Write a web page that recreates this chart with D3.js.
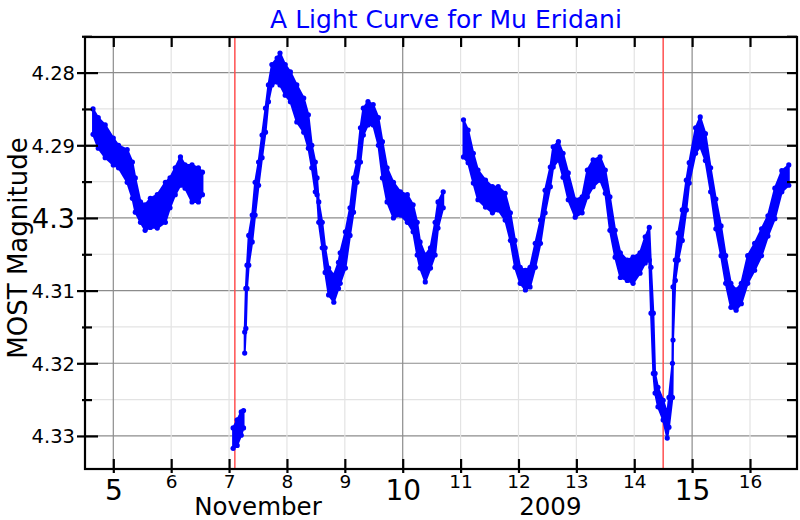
<!DOCTYPE html>
<html><head><meta charset="utf-8">
<script src="https://cdn.jsdelivr.net/npm/d3@7"></script>
<style>
body{margin:0;background:#fff}
svg{display:block}
text{font-family:"DejaVu Sans",sans-serif}
</style>
</head><body><svg id="c" width="800" height="520"></svg>
<script>
// ---------- DATA (November 2009, MOST magnitude; band = brightest/faintest edge) ----------
const dayA = [4.65,4.74,4.86,5.00,5.09,5.24,5.33,5.38,5.47,5.55,5.64,5.76,5.90,5.98,6.07,6.16,6.24,6.36,6.47,6.54];
const loA  = [4.2850,4.2862,4.2872,4.2890,4.2900,4.2906,4.2923,4.2945,4.2978,4.2982,4.2973,4.2968,4.2951,4.2945,4.2931,4.2916,4.2927,4.2927,4.2931,4.2937];
const hiA  = [4.2885,4.2904,4.2917,4.2927,4.2931,4.2951,4.2973,4.2992,4.3006,4.3017,4.3013,4.3014,4.3006,4.2986,4.2968,4.2955,4.2959,4.2978,4.2978,4.2968];

const dayB = [7.07,7.14,7.21,7.25];
const loB  = [4.3289,4.3278,4.3267,4.3265];
const hiB  = [4.3317,4.3313,4.3299,4.3289];

const dayC = [7.27,7.29,7.31,7.34,7.40,7.45,7.51,7.57,7.63,7.68,7.74,7.83,7.88,7.97,8.06,8.17,8.29,8.37,8.43,8.49,8.52,8.55,8.61,8.66,8.72,8.81,8.89,8.92,9.01,9.09,9.15,9.21,9.27,9.32,9.40,9.49,9.58,9.65,9.73,9.84,9.96,10.08,10.18,10.25,10.30,10.39,10.48,10.56,10.61,10.70];
const loC  = [4.3157,4.3097,4.3065,4.3024,4.2996,4.2951,4.2923,4.2886,4.2849,4.2817,4.2789,4.2780,4.2773,4.2789,4.2799,4.2817,4.2835,4.2858,4.2900,4.2923,4.2945,4.2978,4.3006,4.3041,4.3069,4.3079,4.3061,4.3048,4.3019,4.2986,4.2945,4.2923,4.2876,4.2849,4.2840,4.2844,4.2862,4.2895,4.2931,4.2951,4.2964,4.2968,4.2982,4.3006,4.3033,4.3051,4.3041,4.3006,4.2978,4.2964];
const hiC  = [4.3186,4.3152,4.3097,4.3065,4.3033,4.2996,4.2955,4.2917,4.2882,4.2840,4.2817,4.2813,4.2817,4.2831,4.2840,4.2868,4.2882,4.2904,4.2931,4.2964,4.2968,4.3006,4.3041,4.3075,4.3106,4.3116,4.3097,4.3090,4.3069,4.3024,4.2992,4.2951,4.2923,4.2886,4.2872,4.2872,4.2900,4.2945,4.2978,4.3000,4.2996,4.3006,4.3019,4.3051,4.3069,4.3088,4.3069,4.3051,4.3014,4.2986];

const dayD = [11.05,11.13,11.22,11.30,11.43,11.55,11.65,11.77,11.86,11.94,12.03,12.12,12.20,12.29,12.38,12.46,12.55,12.60,12.69,12.77,12.86,12.98,13.10,13.19,13.29,13.41,13.50,13.58,13.67,13.76,13.88,13.98,14.10,14.19,14.26,14.29,14.33,14.36,14.41,14.50,14.57,14.60,14.66,14.67,14.71,14.76,14.83,14.90,14.95,15.06,15.14,15.23,15.32,15.41,15.50,15.58,15.67,15.76,15.85,15.96,16.08,16.20,16.31,16.43,16.55,16.67];
const loD  = [4.2865,4.2879,4.2911,4.2934,4.2948,4.2957,4.2957,4.2966,4.2993,4.3031,4.3068,4.3072,4.3068,4.3035,4.3003,4.2962,4.2930,4.2902,4.2895,4.2911,4.2938,4.2975,4.2971,4.2934,4.2920,4.2916,4.2934,4.2971,4.3017,4.3048,4.3058,4.3054,4.3048,4.3026,4.3013,4.3068,4.3131,4.3214,4.3233,4.3251,4.3269,4.3247,4.3200,4.3095,4.3058,4.3021,4.2989,4.2948,4.2924,4.2876,4.2861,4.2884,4.2931,4.2974,4.3011,4.3052,4.3090,4.3099,4.3090,4.3052,4.3035,4.3015,4.2997,4.2959,4.2935,4.2927];
const hiD  = [4.2916,4.2924,4.2952,4.2975,4.2985,4.2993,4.2989,4.3003,4.3031,4.3068,4.3090,4.3099,4.3095,4.3068,4.3035,4.2993,4.2957,4.2930,4.2920,4.2944,4.2975,4.2999,4.2993,4.2971,4.2957,4.2948,4.2966,4.3017,4.3054,4.3082,4.3086,4.3090,4.3076,4.3062,4.3058,4.3131,4.3214,4.3241,4.3260,4.3278,4.3303,4.3288,4.3247,4.3168,4.3086,4.3058,4.3031,4.2989,4.2952,4.2911,4.2902,4.2921,4.2964,4.3015,4.3052,4.3090,4.3123,4.3127,4.3118,4.3090,4.3072,4.3052,4.3025,4.3001,4.2964,4.2955];

const eventDays = [7.10, 14.50];                 // red vertical markers
const dayTicks = [5,6,7,8,9,10,11,12,13,14,15,16];
const bigDays = [5,10,15];
const magMajor = [4.28,4.29,4.30,4.31,4.32,4.33];
const magMinor = [4.275,4.285,4.295,4.305,4.315,4.325];
const bigMag = [4.30];
const monthLabel = {text:"November", day:7.5};
const yearLabel = {text:"2009", day:12.55};
const titleText = "A Light Curve for Mu Eridani";
const yTitle = "MOST Magnitude";

// ---------- CHART ----------
const svg = d3.select("#c");
const L=85, R=797, T=37, B=469;
const x = d3.scaleLinear().domain([4.511, 16.812]).range([L, R]);
const y = d3.scaleLinear().domain([4.2751, 4.33455]).range([T, B]);

const segs = [[dayA,loA,hiA],[dayB,loB,hiB],[dayC,loC,hiC],[dayD,loD,hiD]]
  .map(([d,l,h]) => d.map((t,i)=>({t, lo:l[i], hi:h[i]})));

// grid
const grid = svg.append("g");
grid.selectAll(".hm").data(magMinor).join("line")
  .attr("x1",L).attr("x2",R).attr("y1",d=>y(d)).attr("y2",d=>y(d))
  .attr("stroke","#e3e3e3").attr("stroke-width",1.2);
grid.selectAll(".hM").data(magMajor).join("line")
  .attr("x1",L).attr("x2",R).attr("y1",d=>y(d)).attr("y2",d=>y(d))
  .attr("stroke","#8c8c8c").attr("stroke-width",1.2);
grid.selectAll(".v").data(dayTicks).join("line")
  .attr("y1",T).attr("y2",B).attr("x1",d=>x(d)).attr("x2",d=>x(d))
  .attr("stroke",d=>bigDays.includes(d)?"#8c8c8c":"#e3e3e3").attr("stroke-width",1.2);

// event lines
svg.append("g").selectAll("line").data(eventDays).join("line")
  .attr("x1",d=>x(d)).attr("x2",d=>x(d)).attr("y1",T).attr("y2",B)
  .attr("stroke","#ff5050").attr("stroke-width",1.5);

// data band
const area = d3.area().x(d=>x(d.t)).y0(d=>y(d.lo)).y1(d=>y(d.hi));
const dg = svg.append("g");
dg.selectAll("path").data(segs).join("path")
  .attr("d",area).attr("fill","#0000ff").attr("stroke","#0000ff")
  .attr("stroke-width",2).attr("stroke-linejoin","round");
const pts = segs.flat();
dg.selectAll("circle.lo").data(pts).join("circle").attr("class","lo")
  .attr("cx",d=>x(d.t)).attr("cy",d=>y(d.lo)).attr("r",2.6).attr("fill","#0000ff");
dg.selectAll("circle.hi").data(pts).join("circle").attr("class","hi")
  .attr("cx",d=>x(d.t)).attr("cy",d=>y(d.hi)).attr("r",2.6).attr("fill","#0000ff");

// frame
svg.append("rect").attr("x",L).attr("y",T).attr("width",R-L).attr("height",B-T)
  .attr("fill","none").attr("stroke","#000").attr("stroke-width",2.2);

function styleAxis(g){
  g.select(".domain").remove();
  g.selectAll(".tick line").attr("stroke","#000").attr("stroke-width",2.2);
}
// bottom axis
const gb = svg.append("g").attr("transform",`translate(0,${B})`)
  .call(d3.axisBottom(x).tickValues(dayTicks).tickSizeOuter(0).tickFormat(d3.format("d")));
styleAxis(gb);
gb.selectAll(".tick line").attr("y1",-10).attr("y2",4);
gb.selectAll(".tick text").attr("dy",null).attr("fill","#000")
  .attr("y",d=>bigDays.includes(d)?31:18.5)
  .style("font-size",d=>bigDays.includes(d)?"28px":"18.5px");
// top axis
const gt = svg.append("g").attr("transform",`translate(0,${T})`)
  .call(d3.axisTop(x).tickValues(dayTicks).tickSizeInner(-10).tickSizeOuter(0).tickFormat(""));
styleAxis(gt);
// left axis
const gl = svg.append("g").attr("transform",`translate(${L},0)`)
  .call(d3.axisLeft(y).tickValues(magMajor).tickSizeOuter(0).tickFormat(d=>String(+d.toFixed(3))));
styleAxis(gl);
gl.selectAll(".tick line").attr("x1",-8).attr("x2",13);
gl.selectAll(".tick text").attr("x",-10).attr("fill","#000")
  .attr("dy","0.36em")
  .style("font-size",d=>bigMag.includes(d)?"27px":"19.5px");
const glm = svg.append("g").attr("transform",`translate(${L},0)`)
  .call(d3.axisLeft(y).tickValues(magMinor).tickSizeOuter(0).tickFormat(""));
styleAxis(glm);
glm.selectAll(".tick line").attr("x1",-3).attr("x2",7);
// right axis
const gr = svg.append("g").attr("transform",`translate(${R},0)`)
  .call(d3.axisRight(y).tickValues(magMajor.concat(magMinor)).tickSizeInner(-10).tickSizeOuter(0).tickFormat(""));
styleAxis(gr);

// date labels
svg.append("text").attr("x",x(monthLabel.day)).attr("y",514.5).attr("text-anchor","middle")
  .style("font-size","24.5px").text(monthLabel.text);
svg.append("text").attr("x",x(yearLabel.day)).attr("y",514.5).attr("text-anchor","middle")
  .style("font-size","24.5px").text(yearLabel.text);

// titles
svg.append("text").attr("x",446).attr("y",28).attr("text-anchor","middle")
  .attr("fill","#0000ff").style("font-size","25px").text(titleText);
svg.append("text").attr("transform","translate(27,248) rotate(-90)").attr("text-anchor","middle")
  .style("font-size","26px").text(yTitle);
</script>
</body></html>
